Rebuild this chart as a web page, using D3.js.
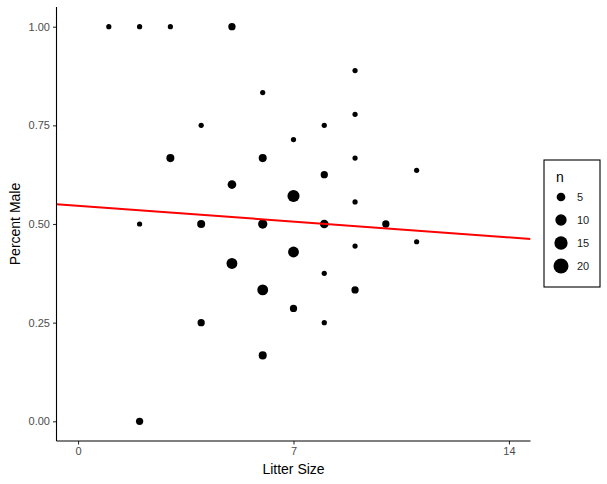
<!DOCTYPE html>
<html>
<head>
<meta charset="utf-8">
<script src="https://cdn.jsdelivr.net/npm/d3@7"></script>
<style>
  body { margin: 0; background: #fff; }
  svg { font-family: "Liberation Sans", Arial, sans-serif; }
</style>
</head>
<body>
<div id="chart"></div>
<script>
// litter size, percent male, number of litters (n)
const litterSize = [1, 2, 3, 5, 9, 6, 9, 4, 8, 7, 3, 6, 9, 11, 8, 5, 7, 9, 2, 4, 6, 8, 10, 9, 11, 5, 7, 8, 6, 9, 7, 4, 8, 6, 2];
const percentMale = [1.0, 1.0, 1.0, 1.0, 0.889, 0.833, 0.778, 0.75, 0.75, 0.714, 0.667, 0.667, 0.667, 0.636, 0.625, 0.6, 0.571, 0.556, 0.5, 0.5, 0.5, 0.5, 0.5, 0.444, 0.455, 0.4, 0.429, 0.375, 0.333, 0.333, 0.286, 0.25, 0.25, 0.167, 0.0];
const nCount = [1, 1, 1, 3, 1, 1, 1, 1, 1, 1, 4, 4, 1, 1, 3, 5, 12, 1, 1, 4, 6, 5, 3, 1, 1, 9, 9, 1, 9, 3, 3, 3, 1, 4, 3];

const xTicks = [0, 7, 14];
const yTicks = [0, 0.25, 0.5, 0.75, 1.0];
const legendBreaks = [5, 10, 15, 20];

// fitted line
const fitIntercept = 0.546;
const fitSlope = -0.0057;

const points = litterSize.map((d, i) => ({x: d, y: percentMale[i], n: nCount[i]}));

const W = 607, H = 484;
const margin = {top: 7, right: 76.5, bottom: 43, left: 56.5};
const width = W - margin.left - margin.right;
const height = H - margin.top - margin.bottom;

const svg = d3.select("#chart")
    .append("svg")
    .attr("width", W)
    .attr("height", H);

const g = svg.append("g")
    .attr("transform", `translate(${margin.left},${margin.top})`);

// scales with ggplot-like 5% expansion
const x = d3.scaleLinear().domain([-0.7, 14.7]).range([0, width]);
const y = d3.scaleLinear().domain([-0.05, 1.05]).range([height, 0]);
const r = d3.scaleSqrt().domain([0, 20]).range([1.2, 7.5]);

svg.append("defs").append("clipPath")
    .attr("id", "panelClip")
    .append("rect")
    .attr("width", width)
    .attr("height", height);

// points
g.selectAll(".dot")
    .data(points)
    .enter()
    .append("circle")
    .attr("class", "dot")
    .attr("cx", d => x(d.x))
    .attr("cy", d => y(d.y))
    .attr("r", d => r(d.n))
    .attr("fill", "#000");

// regression line
const xs = x.domain();
g.append("line")
    .attr("clip-path", "url(#panelClip)")
    .attr("x1", x(xs[0]))
    .attr("y1", y(fitIntercept + fitSlope * xs[0]))
    .attr("x2", x(xs[1]))
    .attr("y2", y(fitIntercept + fitSlope * xs[1]))
    .attr("stroke", "#ff0000")
    .attr("stroke-width", 2);

// axes
const xAxis = g.append("g")
    .attr("transform", `translate(0,${height})`)
    .call(d3.axisBottom(x).tickValues(xTicks).tickSize(3.5).tickPadding(3).tickFormat(d3.format("d")));
const yAxis = g.append("g")
    .call(d3.axisLeft(y).tickValues(yTicks).tickSize(3.5).tickPadding(3).tickFormat(d3.format(".2f")));

[xAxis, yAxis].forEach(ax => {
    ax.select(".domain").attr("stroke", "#000").attr("stroke-width", 1.1).attr("d", null);
    ax.selectAll(".tick line").attr("stroke", "#333").attr("stroke-width", 1.1);
    ax.selectAll(".tick text")
        .attr("fill", "#4d4d4d")
        .style("font-size", "11px")
        .style("font-family", "'Liberation Sans', Arial, sans-serif");
});
// draw axis lines explicitly (no end caps)
xAxis.select(".domain").remove();
yAxis.select(".domain").remove();
g.append("line")
    .attr("x1", 0).attr("x2", width)
    .attr("y1", height).attr("y2", height)
    .attr("stroke", "#000").attr("stroke-width", 1.1);
g.append("line")
    .attr("x1", 0).attr("x2", 0)
    .attr("y1", 0).attr("y2", height)
    .attr("stroke", "#000").attr("stroke-width", 1.1);

// axis titles
svg.append("text")
    .attr("x", margin.left + width / 2)
    .attr("y", 474)
    .attr("text-anchor", "middle")
    .style("font-size", "14px")
    .text("Litter Size");

svg.append("text")
    .attr("transform", "rotate(-90)")
    .attr("x", -(margin.top + height / 2))
    .attr("y", 20)
    .attr("text-anchor", "middle")
    .style("font-size", "14px")
    .text("Percent Male");

// legend
const legend = svg.append("g")
    .attr("transform", "translate(544,160)");

legend.append("rect")
    .attr("width", 56)
    .attr("height", 127)
    .attr("fill", "#fff")
    .attr("stroke", "#000")
    .attr("stroke-width", 1.1);

legend.append("text")
    .attr("x", 16)
    .attr("y", 22)
    .attr("text-anchor", "middle")
    .style("font-size", "14px")
    .text("n");

const keyY = d3.scalePoint().domain(legendBreaks).range([37, 106]);

legend.selectAll(".key")
    .data(legendBreaks)
    .enter()
    .append("circle")
    .attr("class", "key")
    .attr("cx", 17)
    .attr("cy", d => keyY(d))
    .attr("r", d => r(d))
    .attr("fill", "#000");

legend.selectAll(".keylabel")
    .data(legendBreaks)
    .enter()
    .append("text")
    .attr("class", "keylabel")
    .attr("x", 33)
    .attr("y", d => keyY(d) + 4)
    .style("font-size", "11px")
    .attr("fill", "#1a1a1a")
    .text(d => d);
</script>
</body>
</html>
